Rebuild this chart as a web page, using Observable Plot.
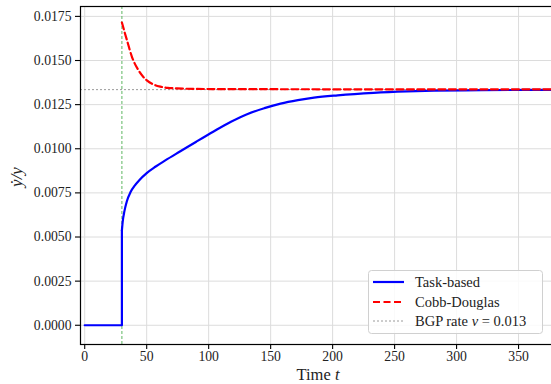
<!DOCTYPE html>
<html>
<head>
<meta charset="utf-8">
<script src="https://cdn.jsdelivr.net/npm/d3@7"></script>
<script src="https://cdn.jsdelivr.net/npm/@observablehq/plot@0.6"></script>
<style>
  html, body { margin: 0; padding: 0; background: #fff; overflow: hidden; }
  #chart { position: relative; width: 551px; height: 384px; }
</style>
</head>
<body>
<div id="chart"></div>
<script>
// ---- data ----
const shockTime = 30;
const bgpRate = 0.01335;
const preShockT = [0, 30, 30];
const preShockV = [0, 0, 0.00538];
const taskT = [30, 30.7, 32, 34, 37, 40.5, 44, 50, 57, 65, 77.5, 90, 104, 118, 131, 145, 158, 172, 185, 204, 233, 260, 282, 320, 379];
const taskV = [0.00538, 0.0059, 0.00645, 0.00703, 0.00755, 0.00793, 0.00822, 0.00862, 0.00898, 0.00934, 0.00987, 0.0104, 0.01098, 0.01153, 0.01196, 0.0123, 0.01256, 0.01276, 0.0129, 0.01303, 0.01317, 0.01325, 0.01329, 0.01332, 0.01334];
const cobbT = [30, 32, 34.2, 38.3, 43.6, 50.4, 55, 61.1, 67, 74.6, 90, 120, 200, 379];
const cobbV = [0.01715, 0.01665, 0.01612, 0.01517, 0.01442, 0.01386, 0.01366, 0.01352, 0.01345, 0.01342, 0.01339, 0.01338, 0.01337, 0.01337];
const xTicks = [0, 50, 100, 150, 200, 250, 300, 350];
const yTicks = [0, 0.0025, 0.005, 0.0075, 0.01, 0.0125, 0.015, 0.0175];
const legendLabels = ["Task-based", "Cobb-Douglas", "BGP rate"];

const pre = preShockT.map((t, i) => ({t, v: preShockV[i]}));
const task = taskT.map((t, i) => ({t, v: taskV[i]}));
const cobb = cobbT.map((t, i) => ({t, v: cobbV[i]}));

const font = "'Liberation Serif', 'Times New Roman', serif";

const plot = Plot.plot({
  width: 551,
  height: 384,
  marginLeft: 80,
  marginRight: -3,
  marginTop: 6,
  marginBottom: 40,
  style: {fontFamily: font, fontSize: "13.7px", color: "#222", background: "#fff"},
  x: {domain: [-3.4, 379], ticks: xTicks, tickFormat: d => String(d), label: null, tickSize: 5, tickPadding: 3},
  y: {domain: [-0.00109, 0.01806], ticks: yTicks, tickFormat: d3.format(".4f"), label: null, tickSize: 5, tickPadding: 4},
  marks: [
    Plot.gridX(xTicks, {stroke: "#dcdcdc", strokeOpacity: 1, strokeWidth: 1}),
    Plot.gridY(yTicks, {stroke: "#dcdcdc", strokeOpacity: 1, strokeWidth: 1}),
    Plot.ruleY([bgpRate], {stroke: "#9a9a9a", strokeWidth: 1, strokeDasharray: "2,2"}),
    Plot.ruleX([shockTime], {stroke: "#4caf50", strokeWidth: 0.9, strokeDasharray: "3,2"}),
    Plot.lineY(pre, {x: "t", y: "v", stroke: "#0000ff", strokeWidth: 2.2}),
    Plot.lineY(task, {x: "t", y: "v", stroke: "#0000ff", strokeWidth: 2.2, curve: "monotone-x"}),
    Plot.lineY(cobb, {x: "t", y: "v", stroke: "#ff0000", strokeWidth: 2.2, strokeDasharray: "7,3.5", curve: "monotone-x"}),
    Plot.axisX({ticks: xTicks, tickFormat: d => String(d), label: null, tickSize: 5, tickPadding: 2, fontSize: "13.7px"}),
    Plot.axisY({ticks: yTicks, tickFormat: d3.format(".4f"), label: null, tickSize: 5, tickPadding: 4, fontSize: "13.7px"}),
    Plot.frame({stroke: "#000", strokeWidth: 1.2})
  ]
});

document.getElementById("chart").appendChild(plot);

const svg = d3.select(plot);
svg.selectAll("g[aria-label='x-axis tick'], g[aria-label='y-axis tick']").attr("stroke", "#000").attr("stroke-width", 1.1);

// x axis label
const xl = svg.append("text")
  .attr("x", 318).attr("y", 380)
  .attr("text-anchor", "middle")
  .attr("font-family", font).attr("font-size", "16.5px").attr("fill", "#222");
xl.append("tspan").text("Time ");
xl.append("tspan").attr("font-style", "italic").text("t");

// y axis label
svg.append("text")
  .attr("transform", "translate(22,177) rotate(-90)")
  .attr("text-anchor", "middle")
  .attr("font-family", font).attr("font-size", "17px").attr("font-style", "italic").attr("fill", "#222")
  .text("ẏ/y");

// legend
const lg = svg.append("g").attr("font-family", font).attr("font-size", "14.5px").attr("fill", "#222").attr("text-anchor", "start");
lg.append("rect").attr("x", 368.5).attr("y", 270.5).attr("width", 174).attr("height", 63)
  .attr("rx", 3).attr("fill", "#fff").attr("fill-opacity", 0.85).attr("stroke", "#d0d0d0");
const rows = [
  {y: 282, stroke: "#0000ff", dash: null, w: 2.2},
  {y: 302, stroke: "#ff0000", dash: "7,3.5", w: 2.2},
  {y: 321, stroke: "#9a9a9a", dash: "2,2", w: 1}
];
rows.forEach((r, i) => {
  const l = lg.append("line").attr("x1", 373).attr("x2", 404).attr("y1", r.y).attr("y2", r.y)
    .attr("stroke", r.stroke).attr("stroke-width", r.w);
  if (r.dash) l.attr("stroke-dasharray", r.dash);
  const t = lg.append("text").attr("x", 415).attr("y", r.y + 5).attr("text-anchor", "start");
  t.append("tspan").text(legendLabels[i]);
  if (i === 2) {
    t.append("tspan").text(" ");
    t.append("tspan").attr("font-style", "italic").text("ν");
    t.append("tspan").text(" = 0.013");
  }
});
</script>
</body>
</html>
